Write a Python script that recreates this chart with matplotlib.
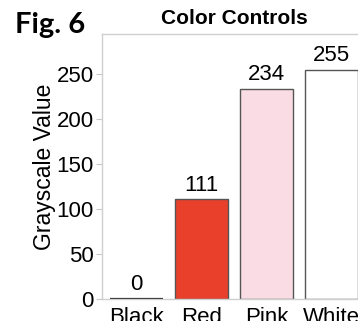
import matplotlib
matplotlib.use("Agg")
import matplotlib.pyplot as plt

categories = ["Black", "Red", "Pink", "White"]
values = [0, 111, 234, 255]
bar_colors = ["#000000", "#E8402A", "#FADDE4", "#FFFFFF"]
yticks = [0, 50, 100, 150, 200, 250]

plt.rcParams["font.family"] = ["Liberation Sans", "DejaVu Sans"]

W, H = 358, 321
fig = plt.figure(figsize=(W / 100, H / 100), dpi=100)

# axes run off the right edge, like the cropped original
left, right, top, bottom = 102, 400, 34, 299
ax = fig.add_axes([left / W, (H - bottom) / H, (right - left) / W, (bottom - top) / H])

x = list(range(len(categories)))
bars = ax.bar(x, values, width=0.81, color=bar_colors, edgecolor="#555555", linewidth=1.0)
bars[0].set_edgecolor("#222222")
bars[0].set_linewidth(1.6)

for xi, v in zip(x, values):
    ax.text(xi, v + 4, str(v), ha="center", va="bottom", fontsize=16)

ax.set_xlim(-0.53, -0.53 + (right - left) / 65)
ax.set_ylim(0, 295)
ax.set_yticks(yticks)
ax.set_xticks(x)
ax.set_xticklabels(categories)
ax.tick_params(axis="y", labelsize=16, length=4, color="#c8c8c8", pad=2)
ax.tick_params(axis="x", labelsize=16, length=0, pad=6)

for side in ["left", "top", "bottom", "right"]:
    ax.spines[side].set_color("#cfcfcf")
    ax.spines[side].set_linewidth(1.0)

ax.set_ylabel("Grayscale Value", fontsize=16.5, labelpad=0)

fig.text(234 / W, 1 - 19 / H, "Color Controls", ha="center", va="center",
         fontsize=15, fontweight="bold")
fig.text(15 / W, 1 - 25 / H, "Fig. 6", ha="left", va="center",
         fontsize=21, fontweight="bold", family=["Lato", "DejaVu Sans"])

fig.savefig("out.png", dpi=100)
